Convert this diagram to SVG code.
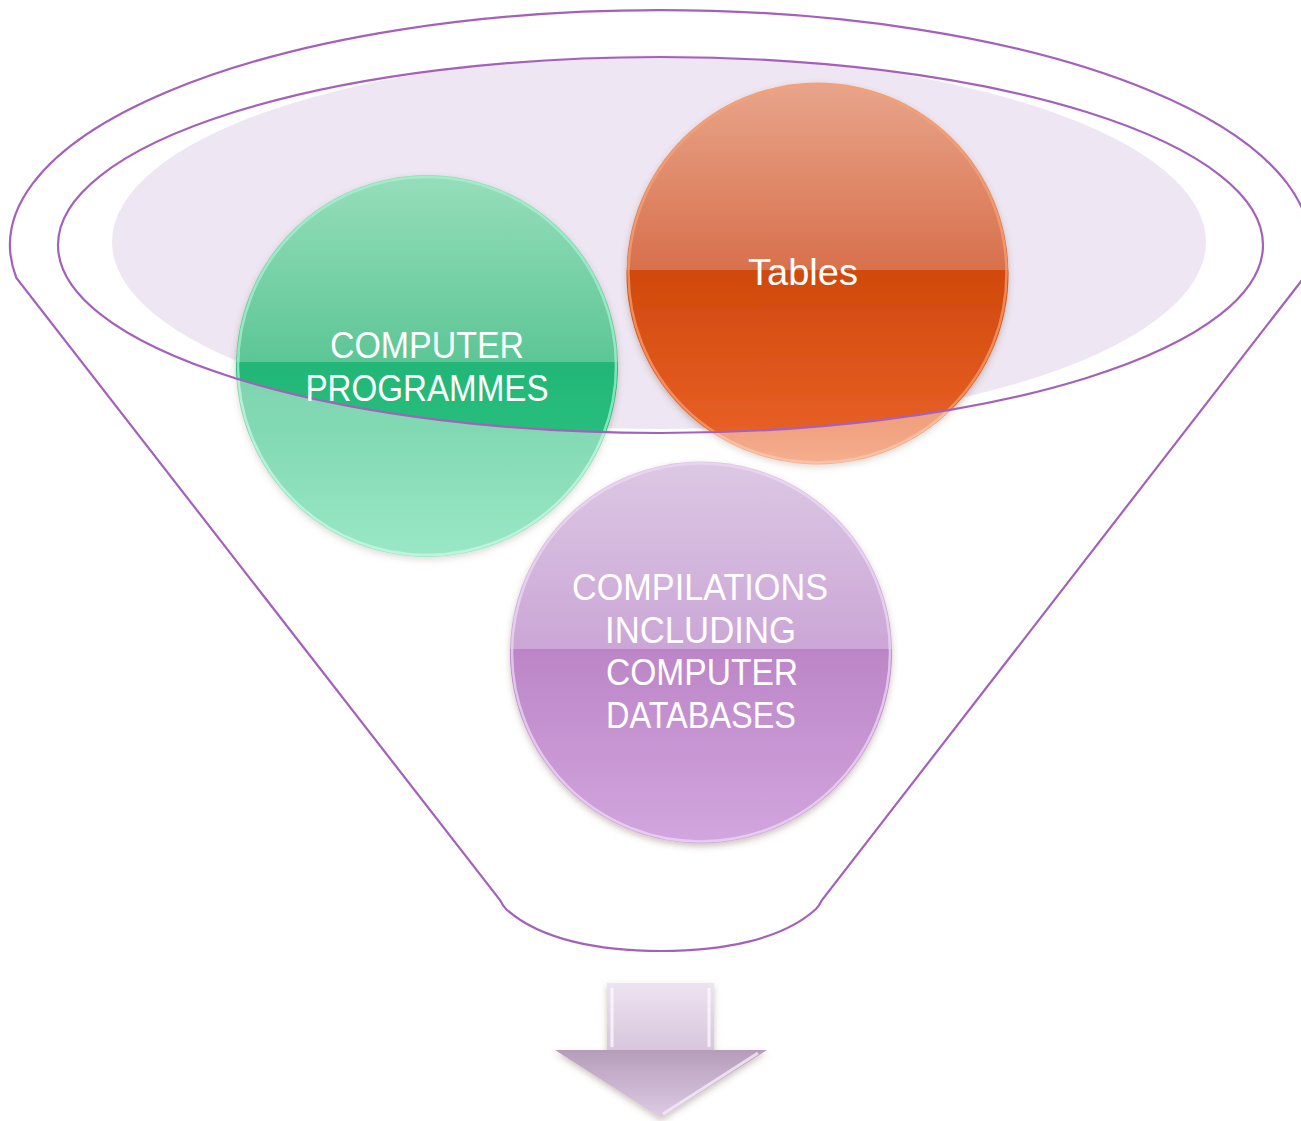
<svg xmlns="http://www.w3.org/2000/svg" width="1301" height="1121" viewBox="0 0 1301 1121">
<defs>
<style>
.ln{fill:none;stroke:#A461BC;stroke-width:2.2}
.lbl{font-family:"Liberation Sans","DejaVu Sans",sans-serif;font-size:37px;fill:#FFFFFF;text-anchor:middle}
.rim{fill:none;stroke-width:2.5;opacity:0.75}
</style>
<linearGradient id="gGreen" x1="0" y1="0" x2="0" y2="1">
<stop offset="0" stop-color="#97DEBB"/>
<stop offset="0.49" stop-color="#5CC696"/>
<stop offset="0.49" stop-color="#22B677"/>
<stop offset="0.67" stop-color="#28BE7C"/>
<stop offset="1" stop-color="#52D79D"/>
</linearGradient>
<linearGradient id="gOrange" x1="0" y1="0" x2="0" y2="1">
<stop offset="0" stop-color="#E8A58B"/>
<stop offset="0.49" stop-color="#D8704C"/>
<stop offset="0.49" stop-color="#D0490C"/>
<stop offset="0.9" stop-color="#E65E24"/>
<stop offset="1" stop-color="#EE7540"/>
</linearGradient>
<linearGradient id="gPurple" x1="0" y1="0" x2="0" y2="1">
<stop offset="0" stop-color="#DCC8E4"/>
<stop offset="0.49" stop-color="#CBA6D6"/>
<stop offset="0.49" stop-color="#BC85C7"/>
<stop offset="1" stop-color="#D2A6DE"/>
</linearGradient>
<linearGradient id="gShaft" x1="0" y1="0" x2="0" y2="1">
<stop offset="0" stop-color="#EEE3F2"/>
<stop offset="1" stop-color="#D6C4DB"/>
</linearGradient>
<linearGradient id="gHead" x1="0" y1="0" x2="0" y2="1">
<stop offset="0" stop-color="#B59DBA"/>
<stop offset="1" stop-color="#DECBE4"/>
</linearGradient>
<filter id="sh" x="-10%" y="-10%" width="120%" height="125%">
<feDropShadow dx="0" dy="3" stdDeviation="3" flood-color="#5A4030" flood-opacity="0.3"/>
</filter>
</defs>

<g id="funnel-fill">
<ellipse cx="659" cy="242" rx="547" ry="187" fill="#EEE7F3"/>
</g>

<g id="node-programmes">
<circle cx="427" cy="366" r="191" fill="url(#gGreen)" filter="url(#sh)"/>
<circle class="rim" cx="427" cy="366" r="189" stroke="#A6F2D0"/>
</g>

<g id="node-tables">
<circle cx="817.5" cy="273.5" r="191" fill="url(#gOrange)" filter="url(#sh)"/>
<circle class="rim" cx="817.5" cy="273.5" r="189" stroke="#F8A070"/>
</g>

<g id="funnel-body">
<path fill="#FFFFFF" fill-opacity="0.42" fill-rule="evenodd" d="M16.4,278 A650,235 0 1 1 1303.6,278 L822,900 Q819,906 816,909 C782,940 722,951 661,951 C600,951 540,940 506,909 Q503,906 500,900 Z M58,245 A602.5,188 0 1 0 1263,245 A602.5,188 0 1 0 58,245 Z"/>
</g>

<g id="node-compilations">
<circle cx="701" cy="652.5" r="191" fill="url(#gPurple)" filter="url(#sh)"/>
<circle class="rim" cx="701" cy="652.5" r="189" stroke="#ECD8F4"/>
</g>

<g id="funnel-outline">
<path class="ln" d="M16.4,278 A650,235 0 1 1 1303.6,278 L822,900 Q819,906 816,909 C782,940 722,951 661,951 C600,951 540,940 506,909 Q503,906 500,900 Z"/>
<ellipse class="ln" cx="660.5" cy="245" rx="602.5" ry="188"/>
</g>

<g id="labels">
<text class="lbl" x="427" y="358" textLength="194" lengthAdjust="spacingAndGlyphs">COMPUTER</text>
<text class="lbl" x="427" y="400.5" textLength="243" lengthAdjust="spacingAndGlyphs">PROGRAMMES</text>
<text class="lbl" x="803" y="285" textLength="110" lengthAdjust="spacingAndGlyphs">Tables</text>
<text class="lbl" x="700" y="600" textLength="256" lengthAdjust="spacingAndGlyphs">COMPILATIONS</text>
<text class="lbl" x="700.5" y="642.5" textLength="191" lengthAdjust="spacingAndGlyphs">INCLUDING</text>
<text class="lbl" x="702" y="685" textLength="192" lengthAdjust="spacingAndGlyphs">COMPUTER</text>
<text class="lbl" x="701" y="727.5" textLength="190" lengthAdjust="spacingAndGlyphs">DATABASES</text>
</g>

<g id="arrow" filter="url(#sh)">
<rect x="607" y="983" width="107" height="72" fill="url(#gShaft)"/>
<path d="M612,988 L612,1047" stroke="#FFFFFF" stroke-width="3" opacity="0.7"/>
<path d="M709,988 L709,1047" stroke="#FFFFFF" stroke-width="3" opacity="0.7"/>
<polygon points="555,1050 767,1050 661,1118" fill="url(#gHead)"/>
<path d="M758,1053 L663,1114" stroke="#F6ECF8" stroke-width="3" opacity="0.8"/>
</g>
</svg>
